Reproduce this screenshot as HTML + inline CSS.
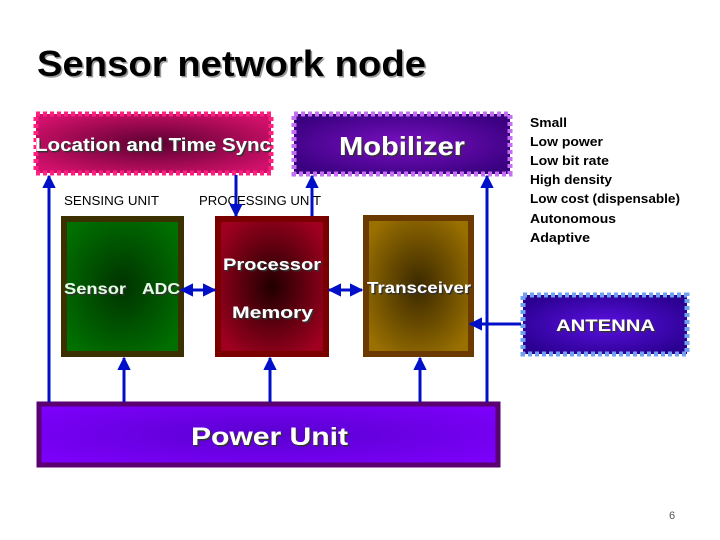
<!DOCTYPE html>
<html><head><meta charset="utf-8"><style>
html,body{margin:0;padding:0;background:#fff;}
svg{display:block;font-family:"Liberation Sans",sans-serif;}
</style></head><body>
<svg width="720" height="540" viewBox="0 0 720 540" xmlns="http://www.w3.org/2000/svg">
<defs>
<radialGradient id="gLoc" cx="50%" cy="50%" r="60%"><stop offset="0" stop-color="#5a0030"/><stop offset="1" stop-color="#d0106a"/></radialGradient>
<radialGradient id="gMob" cx="50%" cy="50%" r="60%"><stop offset="0" stop-color="#7a10c0"/><stop offset="1" stop-color="#3a0080"/></radialGradient>
<radialGradient id="gSen" cx="50%" cy="50%" r="60%"><stop offset="0" stop-color="#003300"/><stop offset="1" stop-color="#007000"/></radialGradient>
<radialGradient id="gPro" cx="50%" cy="50%" r="60%"><stop offset="0" stop-color="#200000"/><stop offset="1" stop-color="#a00020"/></radialGradient>
<radialGradient id="gTr" cx="50%" cy="50%" r="60%"><stop offset="0" stop-color="#3a2800"/><stop offset="1" stop-color="#9a7000"/></radialGradient>
<radialGradient id="gAnt" cx="50%" cy="50%" r="60%"><stop offset="0" stop-color="#5a10e0"/><stop offset="1" stop-color="#2a0090"/></radialGradient>
<radialGradient id="gPow" cx="50%" cy="50%" r="70%"><stop offset="0" stop-color="#5a00d0"/><stop offset="1" stop-color="#8000ff"/></radialGradient>
<filter id="sh"><feDropShadow dx="1.5" dy="1.5" stdDeviation="0.3" flood-color="#999"/></filter>
<filter id="sh2"><feDropShadow dx="1.5" dy="1.5" stdDeviation="0.3" flood-color="#333"/></filter>
<marker id="ar" viewBox="0 0 10 10" refX="9" refY="5" markerWidth="4.5" markerHeight="4.5" orient="auto-start-reverse"><path d="M0,0L10,5L0,10z" fill="#0010c8"/></marker>
</defs>

<text x="37" y="76" font-size="36" font-weight="bold" textLength="389" lengthAdjust="spacingAndGlyphs" filter="url(#sh)">Sensor network node</text>

<rect x="36" y="114" width="235" height="59" fill="url(#gLoc)" stroke="#ff2080" stroke-width="5" stroke-dasharray="4 3"/>
<text x="35" y="151" font-size="18" font-weight="bold" fill="#fff" textLength="236" lengthAdjust="spacingAndGlyphs" filter="url(#sh2)">Location and Time Sync</text>

<rect x="294" y="114" width="216" height="60" fill="url(#gMob)" stroke="#c070f0" stroke-width="5" stroke-dasharray="4 3"/>
<text x="339" y="155" font-size="26" font-weight="bold" fill="#fff" textLength="126" lengthAdjust="spacingAndGlyphs" filter="url(#sh2)">Mobilizer</text>

<text x="64" y="205" font-size="13" textLength="95" lengthAdjust="spacingAndGlyphs">SENSING UNIT</text>
<text x="199" y="205" font-size="13" textLength="122" lengthAdjust="spacingAndGlyphs">PROCESSING UNIT</text>

<rect x="64" y="219" width="117" height="135" fill="url(#gSen)" stroke="#3a3000" stroke-width="6"/>
<text x="64" y="294" font-size="16" font-weight="bold" fill="#e0ffe0" textLength="62" lengthAdjust="spacingAndGlyphs" filter="url(#sh2)">Sensor</text>
<text x="142" y="294" font-size="16" font-weight="bold" fill="#e0ffe0" textLength="38" lengthAdjust="spacingAndGlyphs" filter="url(#sh2)">ADC</text>

<rect x="218" y="219" width="108" height="135" fill="url(#gPro)" stroke="#7a0000" stroke-width="6"/>
<text x="223" y="270" font-size="17" font-weight="bold" fill="#fff" textLength="98" lengthAdjust="spacingAndGlyphs" filter="url(#sh2)">Processor</text>
<text x="232" y="318" font-size="17" font-weight="bold" fill="#fff" textLength="81" lengthAdjust="spacingAndGlyphs" filter="url(#sh2)">Memory</text>

<rect x="366" y="218" width="105" height="136" fill="url(#gTr)" stroke="#6a3a00" stroke-width="6"/>
<text x="367" y="293" font-size="16" font-weight="bold" fill="#fff" textLength="104" lengthAdjust="spacingAndGlyphs" filter="url(#sh2)">Transceiver</text>

<rect x="523" y="295" width="164" height="59" fill="url(#gAnt)" stroke="#70a0f0" stroke-width="5" stroke-dasharray="4 3"/>
<text x="556" y="331" font-size="17" font-weight="bold" fill="#fff" textLength="99" lengthAdjust="spacingAndGlyphs" filter="url(#sh2)">ANTENNA</text>

<rect x="39" y="404" width="459" height="61" fill="url(#gPow)" stroke="#5a0070" stroke-width="5"/>
<text x="191" y="445" font-size="25" font-weight="bold" fill="#fff" textLength="157" lengthAdjust="spacingAndGlyphs" filter="url(#sh2)">Power Unit</text>

<g font-size="13" font-weight="bold" fill="#000">
<text x="530" y="127" textLength="37" lengthAdjust="spacingAndGlyphs">Small</text>
<text x="530" y="146" textLength="73" lengthAdjust="spacingAndGlyphs">Low power</text>
<text x="530" y="165" textLength="79" lengthAdjust="spacingAndGlyphs">Low bit rate</text>
<text x="530" y="184" textLength="82" lengthAdjust="spacingAndGlyphs">High density</text>
<text x="530" y="203" textLength="150" lengthAdjust="spacingAndGlyphs">Low cost (dispensable)</text>
<text x="530" y="223" textLength="86" lengthAdjust="spacingAndGlyphs">Autonomous</text>
<text x="530" y="242" textLength="60" lengthAdjust="spacingAndGlyphs">Adaptive</text>
</g>

<g stroke="#0010c8" stroke-width="3" fill="none">
<line x1="49" y1="402" x2="49" y2="176" marker-end="url(#ar)"/>
<line x1="124" y1="402" x2="124" y2="358" marker-end="url(#ar)"/>
<line x1="236" y1="175" x2="236" y2="216" marker-end="url(#ar)"/>
<line x1="312" y1="216" x2="312" y2="176" marker-end="url(#ar)"/>
<line x1="270" y1="402" x2="270" y2="358" marker-end="url(#ar)"/>
<line x1="420" y1="402" x2="420" y2="358" marker-end="url(#ar)"/>
<line x1="487" y1="402" x2="487" y2="176" marker-end="url(#ar)"/>
<line x1="181" y1="290" x2="215" y2="290" marker-start="url(#ar)" marker-end="url(#ar)"/>
<line x1="329" y1="290" x2="362" y2="290" marker-start="url(#ar)" marker-end="url(#ar)"/>
<line x1="521" y1="324" x2="470" y2="324" marker-end="url(#ar)"/>
</g>

<text x="669" y="519" font-size="11" fill="#555">6</text>
</svg>
</body></html>
